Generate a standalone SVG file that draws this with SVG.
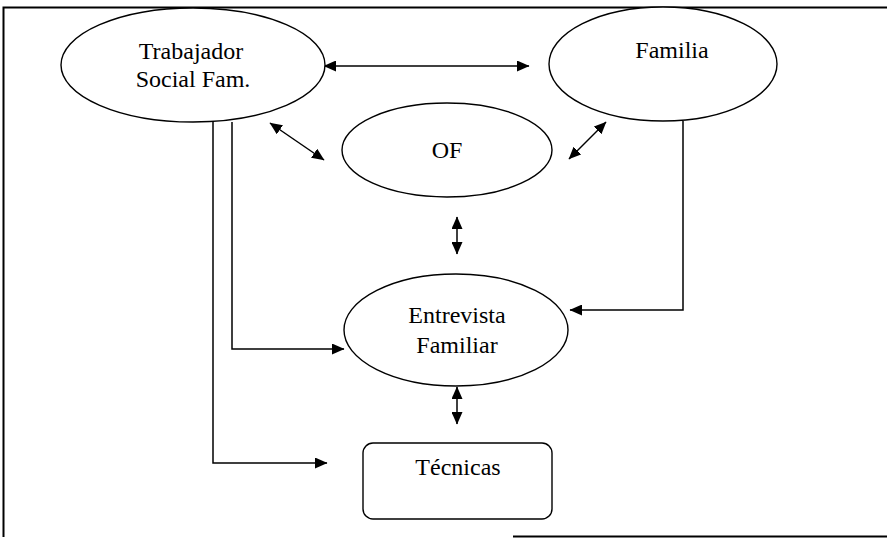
<svg xmlns="http://www.w3.org/2000/svg" width="887" height="538" viewBox="0 0 887 538">
<style>
.shape{fill:#fff;stroke:#000;stroke-width:1.4}
.lbl{font-family:"Liberation Serif","Times New Roman",serif;font-size:24px;fill:#000;text-anchor:middle}
.con{fill:none;stroke:#000;stroke-width:1.5}
.frame{fill:none;stroke:#000;stroke-width:2}
</style>
<defs>
<marker id="ah" markerUnits="userSpaceOnUse" markerWidth="13" markerHeight="11" refX="12" refY="5.5" orient="auto-start-reverse">
<path d="M0,0 L12.5,5.5 L0,11 z" fill="#000"/>
</marker>
</defs>
<g id="frame">
<path class="frame" d="M3.5,537 L3.5,7.5 L887,7.5"/>
<path class="frame" d="M513,536.5 L887,536.5"/>
</g>
<g id="connectors">
<line class="con" x1="324" y1="66" x2="529" y2="66" marker-start="url(#ah)" marker-end="url(#ah)"/>
<line class="con" x1="270" y1="123" x2="324" y2="160" marker-start="url(#ah)" marker-end="url(#ah)"/>
<line class="con" x1="606" y1="122" x2="569" y2="159" marker-start="url(#ah)" marker-end="url(#ah)"/>
<line class="con" x1="457" y1="217" x2="457" y2="254" marker-start="url(#ah)" marker-end="url(#ah)"/>
<line class="con" x1="457" y1="387" x2="457" y2="424" marker-start="url(#ah)" marker-end="url(#ah)"/>
<polyline class="con" points="213,122 213,463 327,463" marker-end="url(#ah)"/>
<polyline class="con" points="232,122 232,349 344,349" marker-end="url(#ah)"/>
<polyline class="con" points="683,121 683,310 570,310" marker-end="url(#ah)"/>
</g>
<g id="trabajador">
<ellipse class="shape" cx="193" cy="65" rx="132" ry="57"/>
<text class="lbl" x="191" y="59">Trabajador</text>
<text class="lbl" x="193" y="87">Social Fam.</text>
</g>
<g id="familia">
<ellipse class="shape" cx="663" cy="64" rx="114" ry="57"/>
<text class="lbl" x="672" y="58">Familia</text>
</g>
<g id="of">
<ellipse class="shape" cx="447" cy="150" rx="105" ry="47"/>
<text class="lbl" x="447" y="158">OF</text>
</g>
<g id="entrevista">
<ellipse class="shape" cx="456" cy="330" rx="112" ry="56"/>
<text class="lbl" x="457" y="323">Entrevista</text>
<text class="lbl" x="457" y="353">Familiar</text>
</g>
<g id="tecnicas">
<rect class="shape" x="363" y="443" width="189" height="76" rx="10"/>
<text class="lbl" x="458" y="475">Técnicas</text>
</g>
</svg>
